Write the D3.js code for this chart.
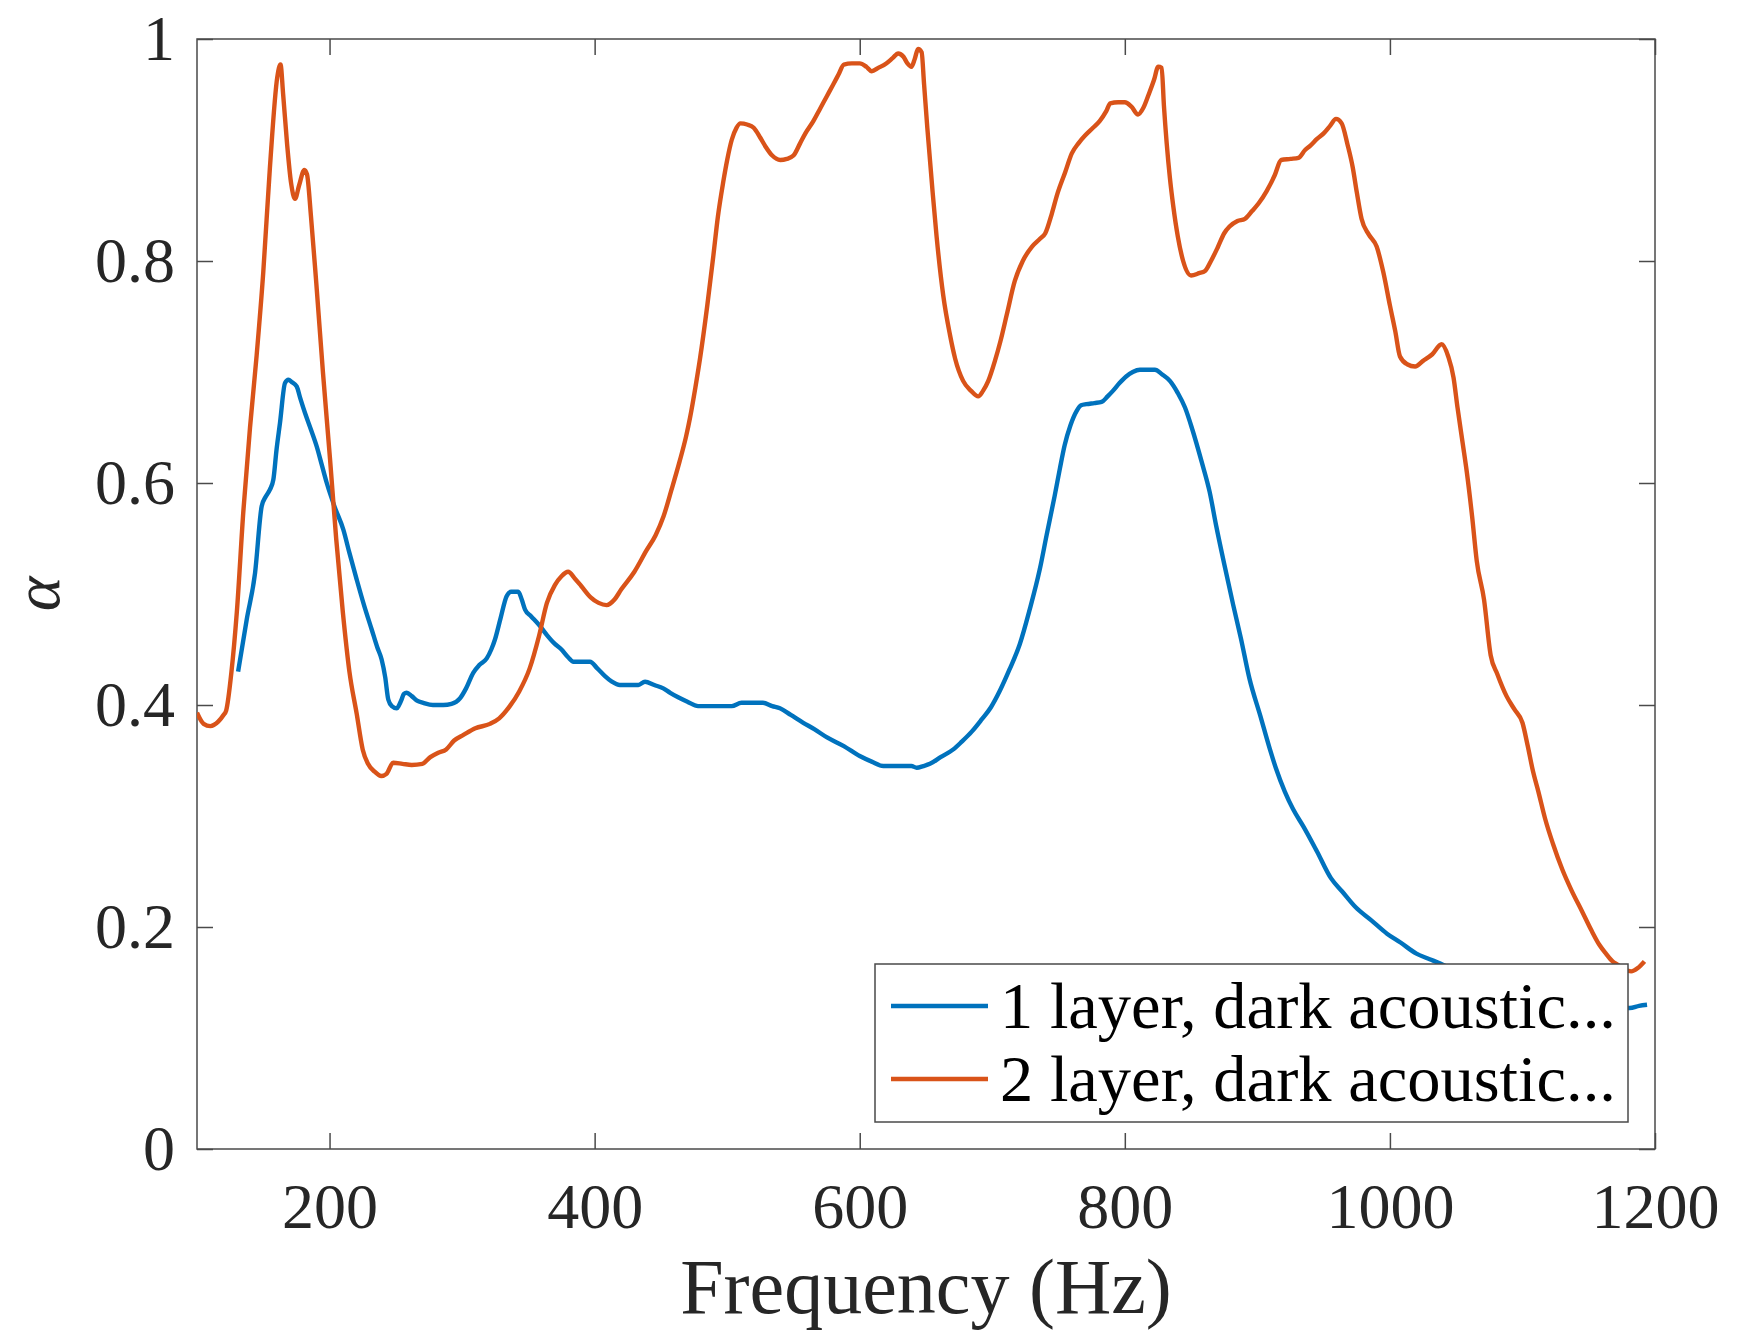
<!DOCTYPE html>
<html>
<head>
<meta charset="utf-8">
<script src="https://cdn.jsdelivr.net/npm/d3@7"></script>
<style>
  html, body { margin: 0; padding: 0; background: #ffffff; }
  svg { display: block; }
</style>
</head>
<body>
<div id="chart"></div>
<script>
// ---------- DATA ----------
const seriesNames = ["1 layer, dark acoustic...", "2 layer, dark acoustic..."];
const seriesColors = ["#0072BD", "#D95319"];

const freq1 = [131,137.5,143.8,148.8,152,155,157.6,160,162.6,166.4,169,171.4,175.2,178,181.5,186,190.3,194,197.9,204,210.4,215,220.5,226,231.8,236,239.3,242,244.3,247,250.7,252.5,254.4,256,258.2,262,266,270.7,278,285.8,292,298.4,303,308.4,313,318.6,322,324.8,329,333.6,337,342.4,345,347.5,352,358.8,364,370,375,380,384,390,396.5,402,407.8,413,419,426,433,438,445,451.8,457,463,470,478,490,503.4,510.8,520,527,534,539.8,548,557.4,566,575,588,600,609,617.8,628,639,643,648,653,661,670.6,677,684.5,692,699,705.8,713,720.8,728,735.8,741,747,751,754.6,759,763.7,767,771,777,782.5,787,791,796,801,806,811.4,817,822.7,828,834,840,845.4,851,858,864,869,875,881.8,887.6,894,902.3,909.5,914,920.7,927,935,945,955.5,964,974,986,997.8,1008,1020,1030,1038,1050,1070,1090,1110,1130,1150,1170,1181,1188,1194];
const alpha1 = [0.430,0.477,0.519,0.579,0.588,0.594,0.603,0.630,0.654,0.690,0.693,0.691,0.687,0.676,0.663,0.648,0.633,0.617,0.600,0.578,0.558,0.537,0.513,0.490,0.468,0.452,0.441,0.425,0.405,0.399,0.397,0.400,0.405,0.410,0.411,0.408,0.404,0.402,0.400,0.400,0.401,0.406,0.415,0.429,0.436,0.442,0.450,0.459,0.478,0.498,0.502,0.502,0.495,0.486,0.480,0.471,0.463,0.455,0.450,0.443,0.439,0.439,0.439,0.433,0.426,0.421,0.418,0.418,0.418,0.421,0.418,0.415,0.411,0.407,0.403,0.399,0.399,0.399,0.402,0.402,0.402,0.399,0.397,0.391,0.384,0.378,0.371,0.363,0.354,0.349,0.345,0.345,0.345,0.3435,0.345,0.347,0.353,0.360,0.367,0.376,0.387,0.398,0.413,0.432,0.455,0.485,0.522,0.553,0.588,0.613,0.634,0.652,0.665,0.670,0.671,0.672,0.673,0.678,0.683,0.690,0.696,0.700,0.702,0.702,0.702,0.698,0.692,0.681,0.668,0.648,0.619,0.592,0.561,0.527,0.490,0.460,0.424,0.390,0.360,0.343,0.322,0.306,0.290,0.268,0.244,0.232,0.218,0.206,0.194,0.186,0.176,0.171,0.167,0.160,0.150,0.143,0.138,0.134,0.131,0.128,0.127,0.129,0.130];

const freq2 = [100,105,110,116,120,122,126,130,135,140,145,150,155,160.6,163,165,168,171,174,177,181,183,186,190,195,200.4,205,210,215,220.5,225,229,234,239,243,248,255,262,270,276,282,288,294,301,310,321,328,336,343,351,358,364,370,375,380,385,390,397,403,409,415,420,430,439,446,452,458,464,469,472,476,479.5,485,489.5,493,497,500,503.4,507,510,515,520,525,529,534,540,545,550,555,559,565,570,575,580,584,588,594,600,605,609,614,620,625,629,633,636,639,641.5,644,646.7,648.5,651,655,658,663,668,672,678,684,689.4,693,697,702,706,711,717,723,730,736,740,745,749,755,760,765,770,776,781,786,789,795,800,805,810,814,818,822,825.2,827.8,829.5,831.6,834,836.6,840,844,850,856,860.5,865,870,875,879,885,890.6,896,901,907,913,918,925,931,936,940,945,950,955,959.3,963.6,968,972,975,978.6,984,990,995,1000,1004,1007.6,1013,1019,1025,1032,1039,1044,1048,1051,1055,1058,1062,1065.5,1071,1076,1081,1088,1094,1100,1104,1108,1112,1117,1123,1130,1137,1145,1152,1158,1163,1168,1172,1177,1182,1187,1192];
const alpha2 = [0.393,0.383,0.381,0.385,0.391,0.395,0.430,0.483,0.575,0.650,0.715,0.790,0.884,0.966,0.977,0.950,0.905,0.870,0.856,0.868,0.882,0.878,0.840,0.780,0.700,0.621,0.550,0.484,0.430,0.392,0.360,0.347,0.340,0.336,0.338,0.348,0.347,0.346,0.347,0.353,0.357,0.360,0.368,0.373,0.379,0.383,0.388,0.399,0.412,0.433,0.462,0.492,0.508,0.516,0.520,0.514,0.507,0.497,0.492,0.490,0.495,0.504,0.520,0.539,0.553,0.570,0.594,0.619,0.642,0.659,0.686,0.712,0.760,0.804,0.840,0.871,0.891,0.909,0.920,0.924,0.923,0.920,0.911,0.903,0.895,0.891,0.892,0.895,0.906,0.915,0.926,0.937,0.948,0.959,0.968,0.977,0.978,0.978,0.975,0.971,0.974,0.978,0.983,0.987,0.984,0.978,0.975,0.982,0.991,0.988,0.960,0.920,0.862,0.822,0.769,0.734,0.712,0.692,0.683,0.678,0.683,0.692,0.710,0.727,0.752,0.782,0.800,0.813,0.820,0.825,0.843,0.860,0.880,0.897,0.906,0.913,0.920,0.926,0.935,0.942,0.943,0.943,0.939,0.932,0.938,0.950,0.963,0.975,0.974,0.940,0.906,0.875,0.849,0.822,0.800,0.787,0.789,0.791,0.800,0.812,0.825,0.831,0.836,0.838,0.845,0.852,0.863,0.877,0.891,0.892,0.893,0.900,0.904,0.910,0.915,0.922,0.928,0.924,0.905,0.884,0.862,0.838,0.824,0.813,0.790,0.760,0.737,0.714,0.707,0.705,0.710,0.716,0.725,0.714,0.695,0.668,0.635,0.610,0.570,0.530,0.495,0.445,0.428,0.408,0.396,0.384,0.363,0.340,0.322,0.298,0.275,0.252,0.233,0.214,0.197,0.184,0.176,0.169,0.166,0.162,0.160,0.163,0.169];

const xTicks = [200, 400, 600, 800, 1000, 1200];
const yTicks = [0, 0.2, 0.4, 0.6, 0.8, 1];
const xLabel = "Frequency (Hz)";
const yLabel = "α";

// ---------- LAYOUT ----------
const W = 1753, H = 1334;
const plot = { left: 197, top: 39, right: 1655, bottom: 1149 };
const font = "'Liberation Serif', 'Times New Roman', serif";
const textColor = "#262626";
const axisColor = "#4a4a4a";

const svg = d3.select("#chart").append("svg")
  .attr("width", W).attr("height", H)
  .attr("viewBox", `0 0 ${W} ${H}`);

const x = d3.scaleLinear().domain([100, 1200]).range([plot.left, plot.right]);
const y = d3.scaleLinear().domain([0, 1]).range([plot.bottom, plot.top]);

// Axes
function styleAxis(g) {
  g.select(".domain").remove();
  g.selectAll(".tick line").attr("stroke", axisColor).attr("stroke-width", 1.5);
  g.selectAll(".tick text").attr("fill", textColor)
    .style("font-family", font).style("font-size", "64px");
}

svg.append("g").attr("transform", `translate(0,${plot.bottom})`)
  .call(d3.axisBottom(x).tickValues(xTicks).tickSize(-16).tickPadding(34).tickFormat(d3.format("d")))
  .call(styleAxis);
svg.append("g").attr("transform", `translate(0,${plot.top})`)
  .call(d3.axisTop(x).tickValues(xTicks).tickSize(-16).tickFormat(""))
  .call(styleAxis);
svg.append("g").attr("transform", `translate(${plot.left},0)`)
  .call(d3.axisLeft(y).tickValues(yTicks).tickSize(-16).tickPadding(22).tickFormat(d => d3.format("")(d)))
  .call(styleAxis);
svg.append("g").attr("transform", `translate(${plot.right},0)`)
  .call(d3.axisRight(y).tickValues(yTicks).tickSize(-16).tickFormat(""))
  .call(styleAxis);

// Box
svg.append("rect")
  .attr("x", plot.left).attr("y", plot.top)
  .attr("width", plot.right - plot.left).attr("height", plot.bottom - plot.top)
  .attr("fill", "none").attr("stroke", axisColor).attr("stroke-width", 1.5);

// Lines
const series = [
  freq1.map((f, i) => [f, alpha1[i]]),
  freq2.map((f, i) => [f, alpha2[i]])
];
const line = d3.line().x(d => x(d[0])).y(d => y(d[1])).curve(d3.curveMonotoneX);

svg.append("clipPath").attr("id", "clip").append("rect")
  .attr("x", plot.left).attr("y", plot.top - 4)
  .attr("width", plot.right - plot.left).attr("height", plot.bottom - plot.top + 4);

svg.append("g").attr("clip-path", "url(#clip)")
  .selectAll("path").data(series).join("path")
  .attr("d", line)
  .attr("fill", "none")
  .attr("stroke", (d, i) => seriesColors[i])
  .attr("stroke-width", 4.4)
  .attr("stroke-linejoin", "round")
  .attr("stroke-linecap", "butt");

// Axis labels
svg.append("text")
  .attr("x", (plot.left + plot.right) / 2).attr("y", 1313)
  .attr("text-anchor", "middle")
  .attr("fill", textColor)
  .style("font-family", font).style("font-size", "78px")
  .text(xLabel);

svg.append("text")
  .attr("transform", `translate(59,${(plot.top + plot.bottom) / 2}) rotate(-90)`)
  .attr("text-anchor", "middle")
  .attr("fill", textColor)
  .style("font-family", font).style("font-size", "66px").style("font-style", "italic")
  .text(yLabel);

// Legend
const leg = { x: 875, y: 964, w: 753, h: 158 };
const lg = svg.append("g");
lg.append("rect")
  .attr("x", leg.x).attr("y", leg.y).attr("width", leg.w).attr("height", leg.h)
  .attr("fill", "#ffffff").attr("stroke", axisColor).attr("stroke-width", 1.5);
const rowY = [1006, 1079];
seriesNames.forEach((name, i) => {
  lg.append("line")
    .attr("x1", 891).attr("x2", 988)
    .attr("y1", rowY[i]).attr("y2", rowY[i])
    .attr("stroke", seriesColors[i]).attr("stroke-width", 4.4);
  lg.append("text")
    .attr("x", 1000).attr("y", rowY[i]).attr("dy", "0.33em")
    .attr("fill", "#000")
    .style("font-family", font).style("font-size", "66.5px")
    .text(name);
});
</script>
</body>
</html>
